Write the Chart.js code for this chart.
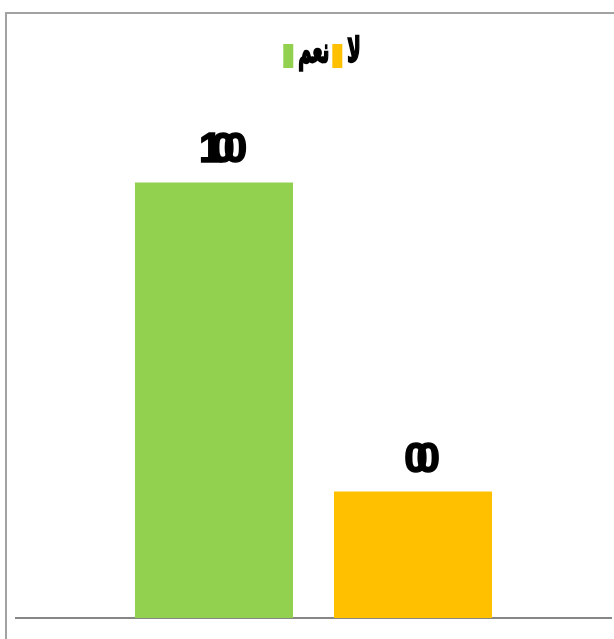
<!DOCTYPE html>
<html>
<head>
<meta charset="utf-8">
<script src="https://cdn.jsdelivr.net/npm/chart.js@4"></script>
<style>
    html, body { margin: 0; padding: 0; background: #fff; overflow: hidden; }
    #frame {
        position: absolute; left: 5px; top: 12px;
        width: 660px; height: 680px;
        border: 2px solid #a2a2a2;
    }
    #wrap { position: absolute; left: 0; top: 0; width: 614px; height: 639px; }
</style>
</head>
<body>
<div id="frame"></div>
<div id="wrap"><canvas id="chart"></canvas></div>
<script>
// Chart data
const categories = [''];
const seriesNames = ['نعم', 'لا'];
const seriesValues = [77.5, 22.5];
const valueLabels = ['100', '00'];

const colors = {
    green: '#92D050',
    yellow: '#FFC000',
    axis: '#868686',
    text: '#000000'
};

// Draws the value labels above each bar (overlapping digits as in the original)
const barLabels = {
    id: 'barLabels',
    afterDatasetsDraw(chart) {
        const ctx = chart.ctx;
        ctx.save();
        ctx.font = 'bold 42px "Liberation Sans Narrow", "Liberation Sans", Arial, sans-serif';
        ctx.fillStyle = colors.text;
        ctx.strokeStyle = colors.text;
        ctx.lineWidth = 1.5;
        ctx.textAlign = 'left';
        ctx.textBaseline = 'alphabetic';
        const overlap = 11;
        chart.data.datasets.forEach((ds, i) => {
            const meta = chart.getDatasetMeta(i);
            const bar = meta.data[0];
            const text = valueLabels[i];
            const widths = [...text].map(ch => ctx.measureText(ch).width);
            const total = widths.reduce((a, b) => a + b, 0) - overlap * (text.length - 1);
            let x = bar.x + 9 - total / 2;
            [...text].forEach((ch, k) => {
                ctx.fillText(ch, x, bar.y - 20);
                ctx.strokeText(ch, x, bar.y - 20);
                x += widths[k] - overlap;
            });
        });
        ctx.restore();
    }
};

// Compact legend: narrow tall boxes with the label right next to them
const compactLegend = {
    id: 'compactLegend',
    afterDraw(chart) {
        const ctx = chart.ctx;
        ctx.save();
        ctx.font = 'bold 30px "DejaVu Sans", sans-serif';
        ctx.textBaseline = 'alphabetic';
        ctx.textAlign = 'left';
        const sx = 0.6, sy = 1.15;
        const boxW = 10, boxH = 24, gap = 5, itemGap = 3;
        const items = chart.data.datasets.map(ds => ({
            text: ds.label,
            color: ds.backgroundColor,
            w: ctx.measureText(ds.label).width * sx
        }));
        const total = items.reduce((s, it) => s + boxW + gap + it.w, 0) + itemGap * (items.length - 1);
        let x = chart.width / 2 + 15 - total / 2;
        const top = 44;
        items.forEach(it => {
            ctx.fillStyle = it.color;
            ctx.fillRect(x, top, boxW, boxH);
            x += boxW + gap;
            ctx.save();
            ctx.translate(x, top + 18);
            ctx.scale(sx, sy);
            ctx.fillStyle = colors.text;
            ctx.strokeStyle = colors.text;
            ctx.lineWidth = 2;
            ctx.fillText(it.text, 0, 0);
            ctx.strokeText(it.text, 0, 0);
            ctx.restore();
            x += it.w + itemGap;
        });
        ctx.restore();
    }
};

new Chart(document.getElementById('chart'), {
    type: 'bar',
    data: {
        labels: categories,
        datasets: seriesNames.map((name, i) => ({
            label: name,
            data: [seriesValues[i]],
            backgroundColor: [colors.green, colors.yellow][i],
            borderWidth: 0
        }))
    },
    options: {
        responsive: true,
        maintainAspectRatio: false,
        animation: false,
        categoryPercentage: 0.669,
        barPercentage: 0.794,
        layout: {
            padding: { left: 16, right: 3, top: 56, bottom: 13 }
        },
        plugins: {
            legend: { display: false },
            tooltip: { enabled: false }
        },
        scales: {
            x: {
                grid: { display: false },
                ticks: { display: false },
                border: { display: true, color: colors.axis, width: 2 }
            },
            y: {
                display: false,
                min: 0,
                max: 100
            }
        }
    },
    plugins: [barLabels, compactLegend]
});
</script>
</body>
</html>
